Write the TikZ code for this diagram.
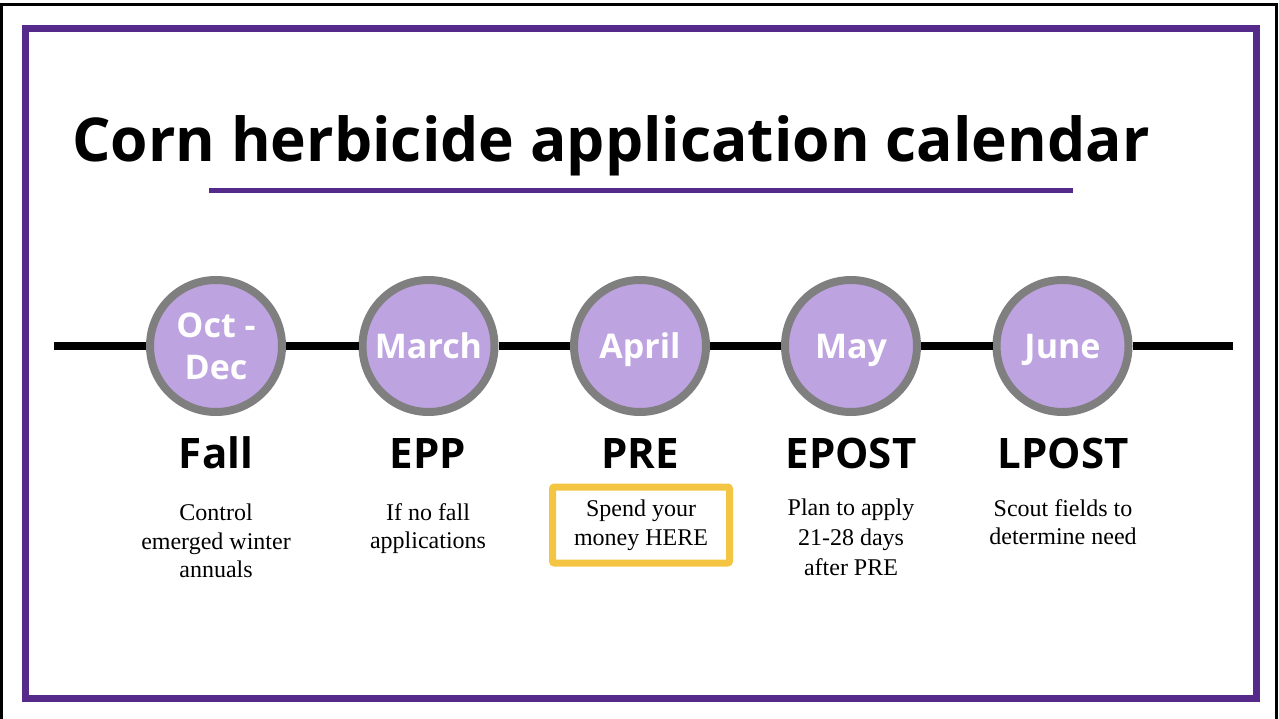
\documentclass[tikz,border=0pt]{standalone}
\usepackage{fontspec}
\newfontfamily\osans{Open Sans}
\newfontfamily\tserif{Liberation Serif}
\definecolor{framepurple}{HTML}{552A8B}
\definecolor{circfill}{HTML}{BEA3E1}
\definecolor{circgray}{HTML}{7F7F7F}
\definecolor{boxyellow}{HTML}{F4C542}
\tikzset{
  monthbase/.style={circle, draw=circgray, fill=circfill, line width=8pt, minimum size=132pt, inner sep=0pt,
    text=white, font=\osans\bfseries\fontsize{34}{42}\selectfont, align=center},
  month/.style={monthbase, text height=24pt, text depth=0pt},
  phase/.style={anchor=base, inner sep=0pt, font=\osans\bfseries\fontsize{42}{48}\selectfont},
  desc/.style={anchor=north, inner sep=0pt, align=center, font=\tserif\fontsize{24}{28.5}\selectfont},
  timeline/.style={line width=8pt, black}
}
\begin{document}
\begin{tikzpicture}[x=1pt,y=-1pt]
\useasboundingbox (0,0) rectangle (1279,719);
% outer thin border
\draw[line width=2.5pt] (1.5,719) -- (1.5,4.5) -- (1276.5,4.5) -- (1276.5,719);
% purple frame
\draw[framepurple, line width=7pt] (25.5,28.5) rectangle (1256.5,698);
% title
\node[anchor=base, inner sep=0pt, font=\osans\bfseries\fontsize{60.5}{70}\selectfont] (title) at (611,162) {Corn herbicide application calendar};
\coordinate (ulL) at (209,190.5);
\coordinate (ulR) at (1073,190.5);
\draw[framepurple, line width=5pt] (ulL) -- (ulR);
% circles
\node[monthbase] (c1) at (216,346) {Oct -\\Dec};
\node[month] (c2) at (428.5,346) {March};
\node[month] (c3) at (640,346) {April};
\node[month] (c4) at (851,346) {May};
\node[month] (c5) at (1062.5,346) {June};
\coordinate (tlL) at (54,346);
\coordinate (tlR) at (1233,346);
\draw[timeline] (tlL) -- (c1);
\draw[timeline] (c1) -- (c2);
\draw[timeline] (c2) -- (c3);
\draw[timeline] (c3) -- (c4);
\draw[timeline] (c4) -- (c5);
\draw[timeline] (c5) -- (tlR);
% phase labels
\node[phase] (p1) at (216,468) {Fall};
\node[phase] (p2) at (428,468) {EPP};
\node[phase] (p3) at (640,468) {PRE};
\node[phase] (p4) at (851,468) {EPOST};
\node[phase] (p5) at (1063,468) {LPOST};
% descriptions
\node[desc] (d1) at (216,504) {Control\\emerged winter\\annuals};
\node[desc] (d2) at (428,503) {If no fall\\applications};
\node[draw=boxyellow, line width=7pt, rounded corners=2pt, minimum width=177pt, minimum height=76pt,
  inner sep=0pt, align=center, font=\tserif\fontsize{24}{29}\selectfont] (d3) at (641,525) {Spend your\\money HERE};
\node[desc, font=\tserif\fontsize{24}{30}\selectfont] (d4) at (851,499) {Plan to apply\\21-28 days\\after PRE};
\node[desc] (d5) at (1063,499) {Scout fields to\\determine need};
\end{tikzpicture}
\end{document}
